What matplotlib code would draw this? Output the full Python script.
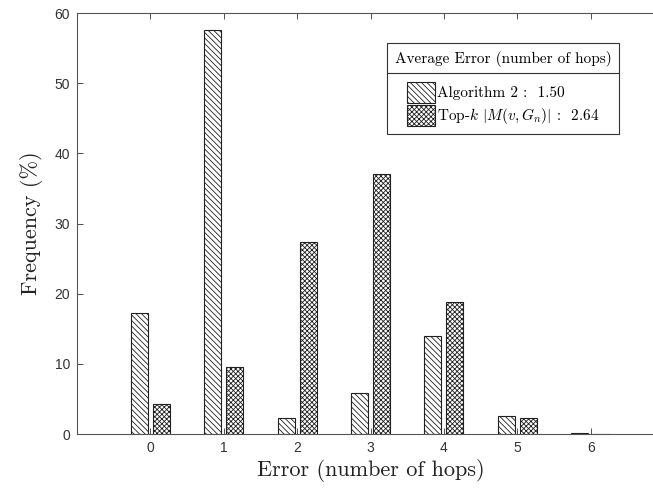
import numpy as np
import matplotlib
matplotlib.use("Agg")
import matplotlib.pyplot as plt
from matplotlib.patches import Patch
from matplotlib.lines import Line2D

# data
hops = [0, 1, 2, 3, 4, 5, 6]
alg2 = [17.3, 57.6, 2.3, 5.9, 13.9, 2.5, 0.2]
topk = [4.3, 9.5, 27.3, 37.1, 18.8, 2.3, 0.05]
legend_labels = ["Algorithm 2 :  1.50", r"Top-$k$ $|M(v, G_n)|$ :  2.64"]
legend_title = "Average Error (number of hops)"

plt.rcParams["mathtext.fontset"] = "cm"
plt.rcParams["hatch.linewidth"] = 0.6
plt.rcParams["hatch.color"] = "#202020"

hatch_a = "\\" * 6
hatch_b = "x" * 7

fig = plt.figure(figsize=(6.53, 4.91), dpi=100)
# axes extends a little past the right edge, like the reference
ax = fig.add_axes([77 / 653, 1 - 434 / 491, 587 / 653, 421 / 491])

x = np.array(hops)
w = 0.23
off = 0.15
ax.bar(x - off, alg2, w, facecolor="white", edgecolor="#202020",
       linewidth=0.8, hatch=hatch_a)
ax.bar(x + off, topk, w, facecolor="white", edgecolor="#202020",
       linewidth=0.8, hatch=hatch_b)

ax.set_xlim(-1, 7)
ax.set_ylim(0, 60)
ax.set_xticks(hops)
ax.set_yticks(np.arange(0, 61, 10))

tick_font = {"family": "Liberation Sans", "size": 10}
ax.set_xticklabels([str(h) for h in hops], fontdict=tick_font, color="#333333")
ax.set_yticklabels([str(v) for v in range(0, 61, 10)], fontdict=tick_font,
                   color="#333333")
ax.tick_params(direction="in", length=4, width=0.6, color="#333333",
               top=True, right=True, pad=5)

for s in ax.spines.values():
    s.set_color("#555555")
    s.set_linewidth(0.8)

ax.set_xlabel("Error (number of hops)", fontfamily="cmr10", fontsize=16,
              color="#222222", labelpad=3)
ax.set_ylabel("Frequency (%)", fontfamily="cmr10", fontsize=16,
              color="#222222", labelpad=8)

handles = [Patch(facecolor="white", edgecolor="#202020", hatch=hatch_a, linewidth=0.8),
           Patch(facecolor="white", edgecolor="#202020", hatch=hatch_b, linewidth=0.8)]
leg = ax.legend(handles, legend_labels, title=legend_title,
                loc="upper left", bbox_to_anchor=(310 / 587, 1 - 30 / 421),
                prop={"family": "cmr10", "size": 11},
                title_fontproperties={"family": "cmr10", "size": 11},
                handlelength=1.85, handleheight=1.75, handletextpad=0.15,
                labelspacing=0.1, borderpad=0.5, fancybox=False,
                framealpha=1, edgecolor="#333333", borderaxespad=0)
leg.get_frame().set_linewidth(0.8)
leg._legend_box.sep = 11

# separator line under the legend title
fig.canvas.draw()
bb = leg.get_window_extent().transformed(fig.transFigure.inverted())
tb = leg.get_title().get_window_extent().transformed(fig.transFigure.inverted())
ysep = tb.y0 - 6 / 491
fig.add_artist(Line2D([bb.x0, bb.x1], [ysep, ysep], color="#333333",
                      linewidth=0.8, transform=fig.transFigure))

fig.savefig("out.png", dpi=100)
